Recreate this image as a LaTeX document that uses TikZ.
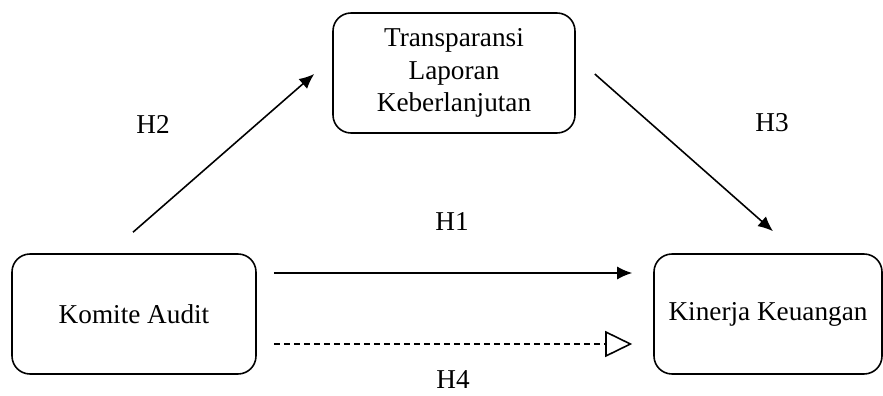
\documentclass[tikz,border=0pt]{standalone}
\usepackage{fontspec}
\setmainfont{Liberation Serif}
\usetikzlibrary{calc,arrows.meta}
\tikzset{>={Latex[length=0.3cm,width=0.26cm]}}
\newcommand{\boxh}{2.4cm}

\begin{document}
\begin{tikzpicture}[font=\fontsize{15.5}{18.6}\selectfont]
  \tikzstyle{varbox}=[draw, line width=0.9pt, rounded corners=0.36cm, minimum height=\boxh, align=center, inner sep=2pt]
  \tikzstyle{path}=[line width=0.9pt, ->]
  \useasboundingbox (0,0) rectangle (17.66,7.9);
  \node[varbox, minimum width=4.88cm] (komite) at (2.68,1.62) {Komite Audit};
  \node[varbox, minimum width=4.56cm] (kinerja) at (15.36,1.62) {Kinerja Keuangan};
  \node[varbox, minimum width=4.84cm] (transp) at (9.08,6.44) {Transparansi\\ Laporan\\ Keberlanjutan};
  \coordinate (h2s) at ($(komite.north)+(-0.02,0.42)$);
  \coordinate (h2e) at ($(transp.west)+(-0.36,-0.02)$);
  \coordinate (h3s) at ($(transp.east)+(0.38,-0.02)$);
  \coordinate (h3e) at ($(kinerja.north)+(0.1,0.44)$);
  \coordinate (h1s) at ($(komite.east)+(0.34,0.82)$);
  \coordinate (h1e) at ($(kinerja.west)+(-0.42,0.82)$);
  \coordinate (h4s) at ($(komite.east)+(0.34,-0.6)$);
  \coordinate (h4e) at ($(kinerja.west)+(-0.42,-0.6)$);
  \draw[path] (h2s) -- (h2e);
  \draw[path] (h3s) -- (h3e);
  \draw[path] (h1s) -- (h1e);
  \draw[line width=0.9pt, dash pattern=on 0.12cm off 0.08cm, -{Triangle[open,length=0.54cm,width=0.52cm]}] (h4s) -- (h4e);
  \node (lh2) at (3.06,5.42) {H2};
  \node (lh3) at (15.44,5.44) {H3};
  \node (lh1) at (9.04,3.46) {H1};
  \node[inner sep=1pt] (lh4) at (9.06,0.3) {H4};
\end{tikzpicture}
\end{document}
